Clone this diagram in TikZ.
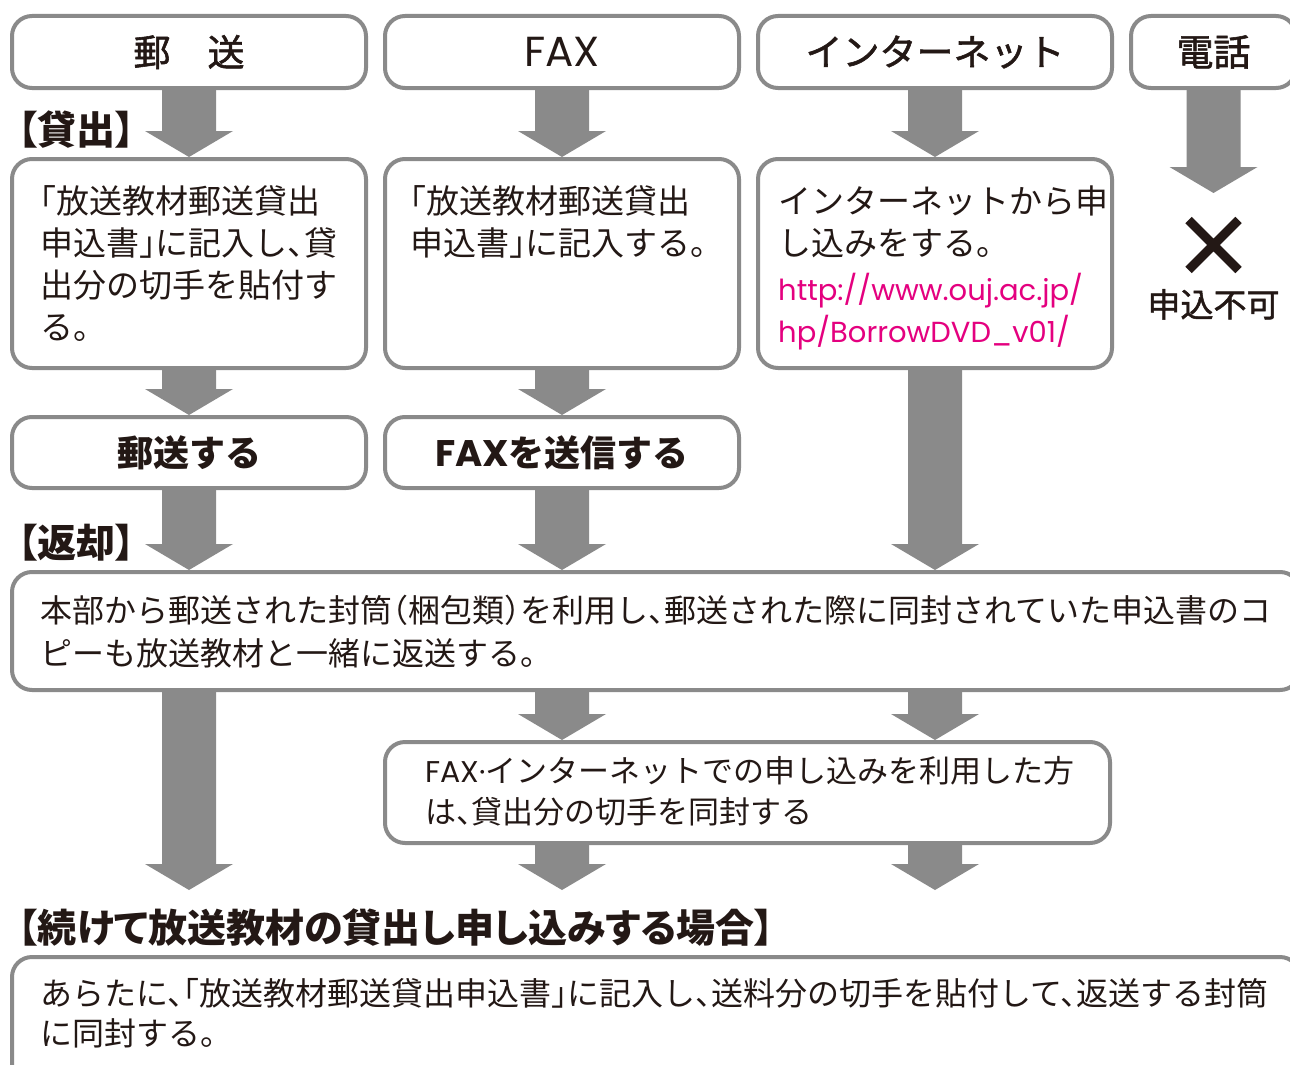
\documentclass[tikz,border=0pt]{standalone}
\usepackage{fontspec}
\setmainfont{Noto Sans CJK JP}
\newfontfamily\midfont[FakeBold=1.5]{Noto Sans CJK JP}
\newfontfamily\headfont[RawFeature=+palt]{Noto Sans CJK JP}
\newfontfamily\bodyfont[RawFeature=+halt]{Noto Sans CJK JP}
\newfontfamily\geofont{Poppins}
\usetikzlibrary{positioning}
\definecolor{linegray}{HTML}{8A8A8A}
\definecolor{txtblack}{HTML}{231815}
\definecolor{urlpink}{HTML}{E4007F}

\begin{document}
\begin{tikzpicture}[
  x = 1pt, y = -1pt,
  text = txtblack,
  box/.style = {
    draw = linegray, line width = 4pt, fill = white,
    rounded corners = 20pt, inner sep = 0pt},
  column/.style = {box, minimum width = 354pt},
  title/.style = {font = \midfont\fontsize{37}{40}\selectfont},
  action/.style = {font = \bfseries\fontsize{36}{40}\selectfont},
  body/.style = {
    font = \bodyfont\fontsize{33}{42}\selectfont, align = left, inner sep = 0pt},
  wide/.style = {
    font = \bodyfont\fontsize{32}{43}\selectfont, align = left, inner sep = 0pt},
  section/.style = {
    font = \headfont\bfseries\fontsize{39}{42}\selectfont, inner sep = 0pt},
  bigflow/.style = {
    fill = linegray,
    to path = {([xshift = -27pt]\tikztostart)
      -- ([xshift = -27pt, yshift = 26pt]\tikztotarget)
      -- ([xshift = -44pt, yshift = 26pt]\tikztotarget)
      -- (\tikztotarget)
      -- ([xshift = 44pt, yshift = 26pt]\tikztotarget)
      -- ([xshift = 27pt, yshift = 26pt]\tikztotarget)
      -- ([xshift = 27pt]\tikztostart) -- cycle}}
  ]
  \useasboundingbox (0,0) rectangle (1290,1065);
  \clip (0,0) rectangle (1290,1065);
  \fill[white] (0,0) rectangle (1290,1065);

  % how to apply
  \node[column, title, minimum height = 72pt, anchor = north west]
    (yuso) at (10,14) {郵　送};
  \node[column, title, minimum height = 72pt, right = 15pt of yuso]
    (fax) {\geofont\fontsize{42}{44}\selectfont FAX};
  \node[column, title, minimum height = 72pt, right = 15pt of fax] (net) {インターネット};
  \node[box, title, minimum width = 165pt, minimum height = 72pt,
    right = 15pt of net] (denwa) {電話};

  % lending (base anchor = last line)
  \node[section, anchor = west] (lend) at (18,130) {【貸出】};
  \node[column, minimum height = 209pt, below = 67pt of yuso] (k1) {};
  \node[column, minimum height = 209pt, below = 67pt of fax] (k2) {};
  \node[column, minimum height = 209pt, below = 67pt of net] (k3) {};
  \node[body, anchor = base west] (k1txt)
    at ([xshift = 30pt, yshift = -182.5pt]k1.north west)
    {「放送教材郵送貸出\\申込書」に記入し、貸\\出分の切手を貼付す\\る。};
  \node[body, anchor = base west] (k2txt)
    at ([xshift = 27pt, yshift = -98.5pt]k2.north west)
    {「放送教材郵送貸出\\申込書」に記入する。};
  \node[body, anchor = base west] (k3txt)
    at ([xshift = 22pt, yshift = -185pt]k3.north west)
    {インターネットから申\\し込みをする。\\[2.5pt]
     {\color{urlpink}\geofont\fontsize{29}{42}\selectfont http://www.ouj.ac.jp/}\\
     {\color{urlpink}\geofont\fontsize{29}{42}\selectfont hp/BorrowDVD\_v01/}};

  \node[inner sep = 0pt, outer sep = 0pt, minimum size = 50pt,
    below = 130pt of denwa] (batsu) {};
  \draw[txtblack, line width = 9pt]
    (batsu.north west) -- (batsu.south east)
    (batsu.north east) -- (batsu.south west);
  \node[font = \midfont\fontsize{33}{36}\selectfont, inner sep = 0pt,
    below = 19pt of batsu] (fuka) {申込不可};

  \node[column, action, minimum height = 71pt, below = 45pt of k1] (s1) {郵送する};
  \node[column, action, minimum height = 71pt, below = 45pt of k2]
    (s2) {{\geofont\fontsize{37}{40}\selectfont FAX}を送信する};

  % return
  \node[section, anchor = west] (ret) at (18,543) {【返却】};
  \node[box, minimum width = 1288pt, minimum height = 118pt, anchor = north west]
    (hen) at ([yshift = -80pt]s1.south west) {};
  \node[wide, anchor = base west] (hentxt)
    at ([xshift = 30pt, yshift = -95pt]hen.north west)
    {本部から郵送された封筒（梱包類）を利用し、郵送された際に同封されていた申込書のコ\\ピーも放送教材と一緒に返送する。};

  \node[box, minimum width = 725pt, minimum height = 101pt, anchor = north west]
    (fd) at ([yshift = -48pt]hen.south -| s2.west) {};
  \node[wide, font = \bodyfont\fontsize{31}{41}\selectfont, anchor = base west] (fdtxt)
    at ([xshift = 42pt, yshift = -83.8pt]fd.north west)
    {{\geofont\fontsize{30}{41}\selectfont FAX·}インターネットでの申し込みを利用した方\\は、貸出分の切手を同封する};

  % next lending
  \node[section, anchor = west] (again) at (18,928)
    {【続けて放送教材の貸出し申し込みする場合】};
  \node[box, minimum width = 1288pt, minimum height = 130pt, anchor = north west]
    (cont) at ([yshift = -110pt]fd.south -| hen.west) {};
  \node[wide, font = \bodyfont\fontsize{32}{40}\selectfont, anchor = base west] (conttxt)
    at ([xshift = 30pt, yshift = -90pt]cont.north west)
    {あらたに、「放送教材郵送貸出申込書」に記入し、送料分の切手を貼付して、返送する封筒\\に同封する。};

  % arrows
  \coordinate (h1) at (s1.south |- hen.north);
  \coordinate (h2) at (s2.south |- hen.north);
  \coordinate (h3) at (k3.south |- hen.north);
  \coordinate (o1) at (hen.south -| s1.south);
  \coordinate (o2) at (hen.south -| s2.south);
  \coordinate (o3) at (hen.south -| k3.south);
  \coordinate (f2) at (fd.north -| s2.south);
  \coordinate (f3) at (fd.north -| k3.south);
  \coordinate (g2) at (fd.south -| s2.south);
  \coordinate (g3) at (fd.south -| k3.south);
  \coordinate (e1) at ([yshift = -198pt]o1);
  \coordinate (e2) at ([yshift = -45pt]g2);
  \coordinate (e3) at ([yshift = -45pt]g3);
  \coordinate (d4) at ([yshift = 27pt]batsu.north);

  \foreach \from/\to in {yuso.south/k1.north, fax.south/k2.north,
      net.south/k3.north, denwa.south/d4, k1.south/s1.north,
      k2.south/s2.north, s1.south/h1, s2.south/h2, k3.south/h3,
      o1/e1, o2/f2, o3/f3, g2/e2, g3/e3}
    \path[bigflow] (\from) to (\to);
\end{tikzpicture}
\end{document}
